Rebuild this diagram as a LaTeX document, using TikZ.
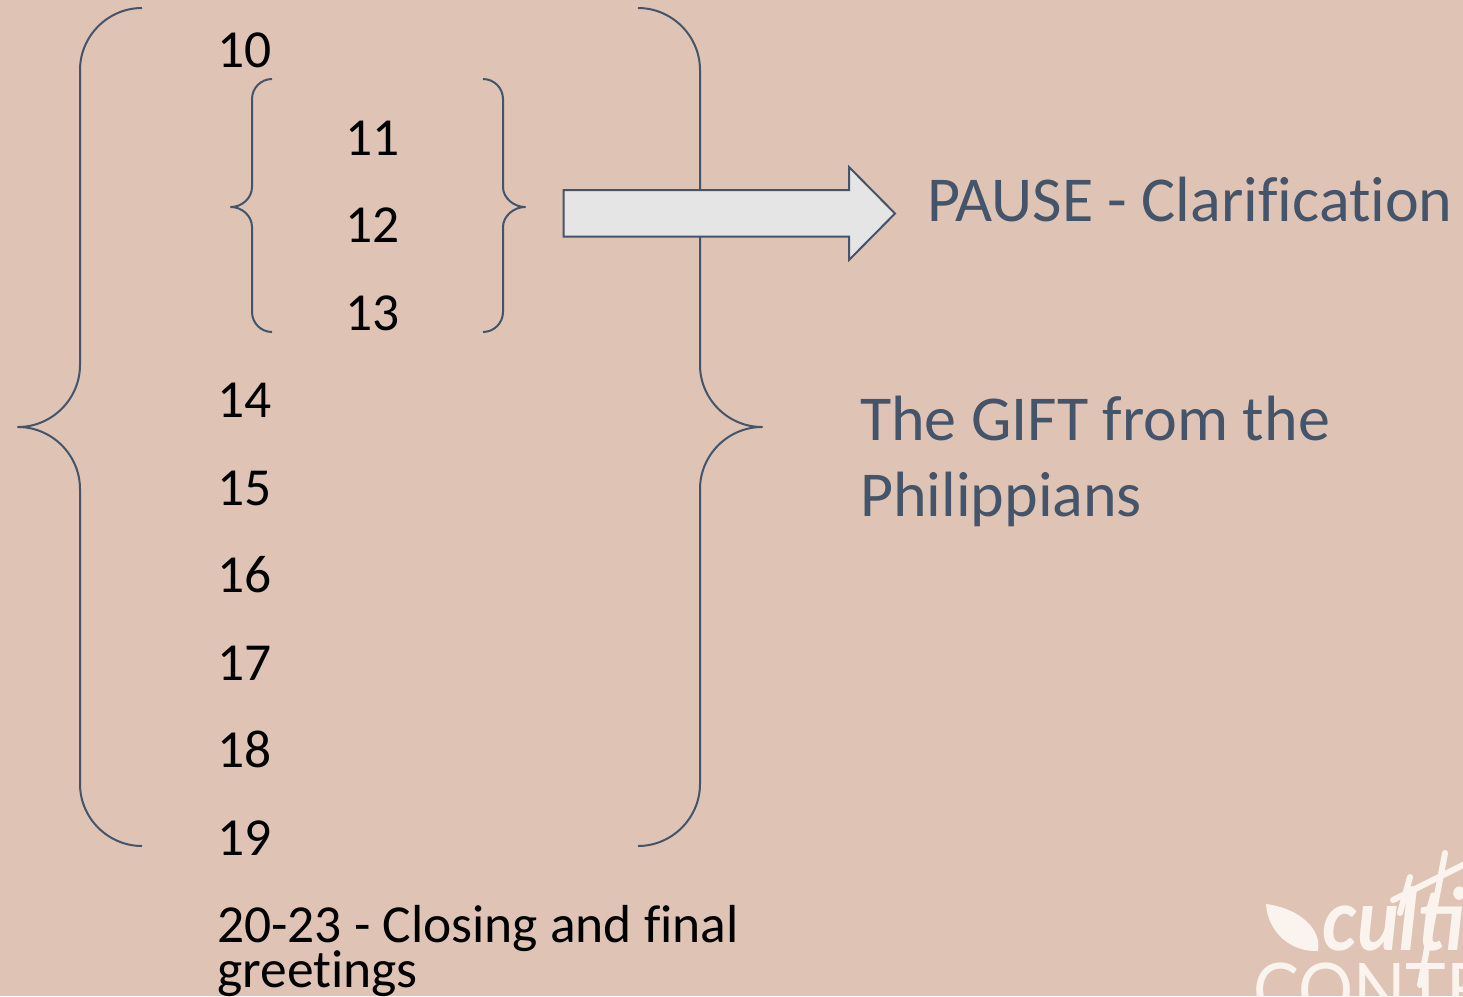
\documentclass[tikz,border=0pt]{standalone}
\usepackage{fontspec}
\setmainfont[Ligatures=NoCommon]{Carlito}
\newfontfamily\logoserif{Lato}
\newfontfamily\logoscript{Lato}
\definecolor{bgc}{HTML}{DFC4B5}
\definecolor{slatec}{HTML}{44546A}
\definecolor{arrowc}{HTML}{E5E5E5}
\definecolor{logoc}{HTML}{FBF4EE}
\tikzset{
  verse/.style={anchor=base west,inner sep=0pt,text=black,font=\fontsize{53.5}{53.5}\selectfont},
  head/.style={anchor=base west,inner sep=0pt,text=slatec,font=\fontsize{64}{64}\selectfont},
  bracket/.style={draw=slatec,line width=2pt,line join=round},
  bigarrow/.style={draw=slatec,fill=arrowc,line width=2pt,line join=miter},
  logotext/.style={anchor=base west,inner sep=0pt,text=logoc},
  logostroke/.style={draw=logoc,line width=6pt,line cap=round}
}
\begin{document}
\begin{tikzpicture}[x=1pt,y=-1pt]
\useasboundingbox (0,0) rectangle (1463,996);
\clip (0,0) rectangle (1463,996);
\fill[bgc] (0,0) rectangle (1463,996);
% big braces
\draw[bracket] (142,8) .. controls (108,8) and (80,36) .. (80,70) -- (80,365)
  .. controls (80,399) and (52,427) .. (18,427)
  .. controls (52,427) and (80,455) .. (80,489) -- (80,784)
  .. controls (80,818) and (108,846) .. (142,846);
\draw[bracket] (638,8) .. controls (672,8) and (700,36) .. (700,70) -- (700,365)
  .. controls (700,399) and (728,427) .. (762,427)
  .. controls (728,427) and (700,455) .. (700,489) -- (700,784)
  .. controls (700,818) and (672,846) .. (638,846);
% small braces
\draw[bracket] (272,79) .. controls (261,79) and (252,88) .. (252,99) -- (252,187)
  .. controls (252,198) and (242,207) .. (231,207)
  .. controls (242,207) and (252,216) .. (252,227) -- (252,312)
  .. controls (252,323) and (261,332) .. (272,332);
\draw[bracket] (483,79) .. controls (494,79) and (503,88) .. (503,99) -- (503,187)
  .. controls (503,198) and (514,207) .. (525,207)
  .. controls (514,207) and (503,216) .. (503,227) -- (503,312)
  .. controls (503,323) and (494,332) .. (483,332);
% arrow
\draw[bigarrow] (563.5,190) -- (849,190) -- (849,167) -- (895,213.5) -- (849,260) -- (849,236.5) -- (563.5,236.5) -- cycle;
% verses
\node[verse] (v10) at (217,67) {10};
\node[verse] (v11) at (345,155) {11};
\node[verse] (v12) at (345,242) {12};
\node[verse] (v13) at (345,330) {13};
\node[verse] (v14) at (217,417) {14};
\node[verse] (v15) at (217,505) {15};
\node[verse] (v16) at (217,592) {16};
\node[verse] (v17) at (217,680) {17};
\node[verse] (v18) at (217,767) {18};
\node[verse] (v19) at (217,855) {19};
\node[verse] (closea) at (217,942) {20-23 - Closing and final};
\node[verse] (closeb) at (217,987) {greetings};
% headings
\node[head] (pause) at (927,221) {PAUSE - Clarification};
\node[head] (gifta) at (860,440) {The GIFT from the};
\node[head] (giftb) at (860,516) {Philippians};
% logo
\fill[logoc] (1266,904) .. controls (1298,908) and (1322,928) .. (1318,951)
  .. controls (1290,952) and (1268,932) .. (1266,904) -- cycle;
\node[logotext,font=\logoscript\itshape\bfseries\fontsize{78}{78}\selectfont,yscale=1.1] (logoa) at (1322,950) {culti};
\draw[logostroke] (1420,985) -- (1445,853);
\draw[logostroke] (1400,913) -- (1410,877);
\draw[logostroke] (1393,900) -- (1467,863);
\node[logotext,font=\logoserif\fontsize{74}{74}\selectfont,xscale=0.93] (logob) at (1253,1016) {CONTE};
\end{tikzpicture}
\end{document}
